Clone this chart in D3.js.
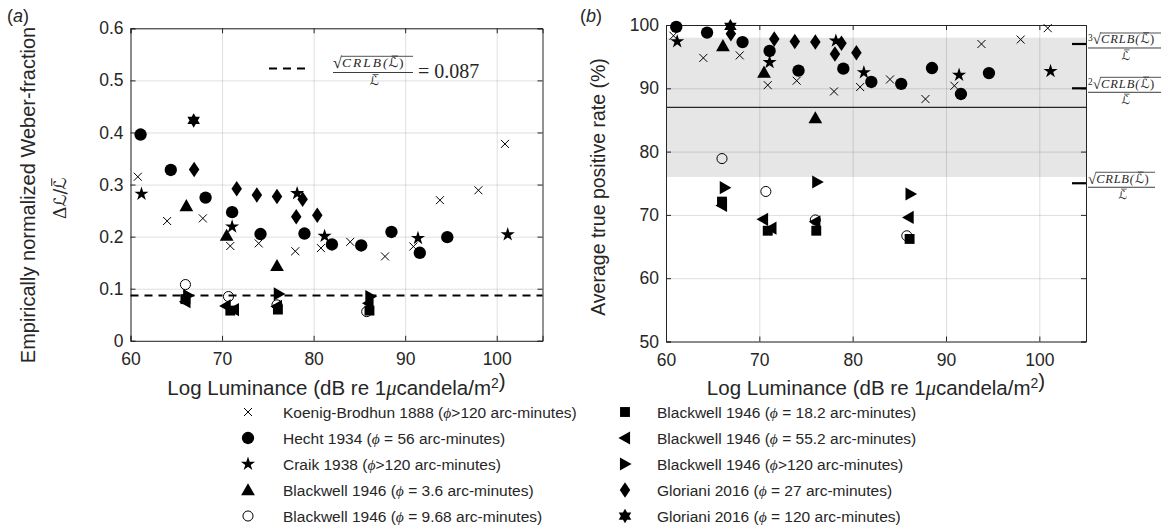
<!DOCTYPE html>
<html>
<head>
<meta charset="utf-8">
<script src="https://cdn.jsdelivr.net/npm/d3@7"></script>
<style>
  body { margin: 0; background: #fff; }
  text { font-family: "Liberation Sans", Arial, sans-serif; fill: #262626; }
</style>
</head>
<body>
<svg id="chart" width="1172" height="529"></svg>
<script>
// ---- data ----
const koenigX = [60.8, 64.0, 67.9, 70.9, 74.0, 78.0, 80.8, 84.0, 87.8, 90.9, 93.8, 98.0, 100.9]
const koenigWeber = [0.315, 0.230, 0.235, 0.182, 0.187, 0.172, 0.178, 0.190, 0.162, 0.181, 0.270, 0.289, 0.378]
const koenigTpr = [98.3, 94.8, 95.2, 90.5, 91.2, 89.5, 90.2, 91.4, 88.3, 90.4, 97.0, 97.7, 99.5]

const hechtX = [61.1, 64.4, 68.2, 71.1, 74.2, 79.0, 82.0, 85.2, 88.5, 91.6, 94.6]
const hechtWeber = [0.396, 0.328, 0.275, 0.247, 0.205, 0.206, 0.185, 0.183, 0.209, 0.169, 0.199]
const hechtTpr = [99.7, 98.8, 97.3, 95.9, 92.8, 93.1, 91.0, 90.7, 93.2, 89.1, 92.4]

const craikX = [61.2, 71.1, 78.2, 81.2, 91.4, 101.2]
const craikWeber = [0.282, 0.219, 0.283, 0.201, 0.197, 0.204]
const craikTpr = [97.4, 94.1, 97.5, 92.5, 92.1, 92.7]

const bw36X = [66.1, 70.5, 76.0]
const bw36Weber = [0.259, 0.202, 0.144]
const bw36Tpr = [96.7, 92.5, 85.3]

const bw968X = [66.0, 70.7, 76.0, 85.8]
const bw968Weber = [0.108, 0.085, 0.069, 0.056]
const bw968Tpr = [78.9, 73.7, 69.2, 66.7]

const bw182X = [66.0, 70.9, 76.1, 86.1]
const bw182Weber = [0.080, 0.058, 0.060, 0.058]
const bw182Tpr = [72.1, 67.5, 67.5, 66.2]

const bw552X = [66.0, 70.4, 71.3, 76.0, 86.0]
const bw552Weber = [0.075, 0.067, 0.060, 0.066, 0.072]
const bw552Tpr = [71.5, 69.3, 67.9, 68.9, 69.6]

const bw120X = [66.3, 76.2, 86.2]
const bw120Weber = [0.087, 0.090, 0.085]
const bw120Tpr = [74.3, 75.2, 73.3]

const glor27X = [66.95, 71.6, 73.8, 76.0, 78.1, 78.8, 80.4]
const glor27Weber = [0.329, 0.292, 0.280, 0.277, 0.238, 0.272, 0.241]
const glor27Tpr = [98.6, 97.8, 97.4, 97.3, 95.4, 97.1, 95.6]

const glor120X = [66.9]
const glor120Weber = [0.423]
const glor120Tpr = [99.8]

const xTicks = [60, 70, 80, 90, 100]
const weberTicks = [0, 0.1, 0.2, 0.3, 0.4, 0.5, 0.6]
const tprTicks = [50, 60, 70, 80, 90, 100]

const crlbWeber = 0.087
const bandTpr = [76, 98]
const lineTpr = 87
const crlbMarks = [{ k: '3', v: 97 }, { k: '2', v: 90 }, { k: '', v: 75 }]

// ---- custom marker shapes ----
const tri = (pts) => ({
    draw(ctx, s) {
        const h = Math.sqrt(s)
        ctx.moveTo(pts[0][0] * h, pts[0][1] * h)
        pts.slice(1).forEach(p => ctx.lineTo(p[0] * h, p[1] * h))
        ctx.closePath()
    }
})
const symCross = { draw(ctx, s) { const r = Math.sqrt(s) / 2; ctx.moveTo(-r, -r); ctx.lineTo(r, r); ctx.moveTo(r, -r); ctx.lineTo(-r, r) } }
const symUp = tri([[0, -0.55], [0.55, 0.42], [-0.55, 0.42]])
const symLeft = tri([[-0.55, 0], [0.42, -0.55], [0.42, 0.55]])
const symRight = tri([[0.55, 0], [-0.42, -0.55], [-0.42, 0.55]])
const symDiamond = tri([[0, -0.62], [0.42, 0], [0, 0.62], [-0.42, 0]])
const symSquare = tri([[-0.45, -0.45], [0.45, -0.45], [0.45, 0.45], [-0.45, 0.45]])
const symHex = {
    draw(ctx, s) {
        const r = Math.sqrt(s) * 0.58
        for (const off of [-Math.PI / 2, Math.PI / 2]) {
            for (let i = 0; i < 3; i++) {
                const a = off + i * 2 * Math.PI / 3
                i ? ctx.lineTo(r * Math.cos(a), r * Math.sin(a)) : ctx.moveTo(r * Math.cos(a), r * Math.sin(a))
            }
            ctx.closePath()
        }
    }
}

const series = [
    { x: koenigX, w: koenigWeber, t: koenigTpr, type: symCross, size: 8, fill: 'none', stroke: true, phi: '>120', name: 'Koenig-Brodhun 1888' },
    { x: hechtX, w: hechtWeber, t: hechtTpr, type: d3.symbolCircle, size: 120, fill: '#000', phi: ' = 56', name: 'Hecht 1934' },
    { x: craikX, w: craikWeber, t: craikTpr, type: d3.symbolStar, size: 62, fill: '#000', phi: '>120', name: 'Craik 1938' },
    { x: bw36X, w: bw36Weber, t: bw36Tpr, type: symUp, size: 12.5, fill: '#000', phi: ' = 3.6', name: 'Blackwell 1946' },
    { x: bw968X, w: bw968Weber, t: bw968Tpr, type: d3.symbolCircle, size: 80, fill: 'none', stroke: true, phi: ' = 9.68', name: 'Blackwell 1946' },
    { x: bw182X, w: bw182Weber, t: bw182Tpr, type: symSquare, size: 11, fill: '#000', phi: ' = 18.2', name: 'Blackwell 1946' },
    { x: bw552X, w: bw552Weber, t: bw552Tpr, type: symLeft, size: 12, fill: '#000', phi: ' = 55.2', name: 'Blackwell 1946' },
    { x: bw120X, w: bw120Weber, t: bw120Tpr, type: symRight, size: 12, fill: '#000', phi: '>120', name: 'Blackwell 1946' },
    { x: glor27X, w: glor27Weber, t: glor27Tpr, type: symDiamond, size: 12.5, fill: '#000', phi: ' = 27', name: 'Gloriani 2016' },
    { x: glor120X, w: glor120Weber, t: glor120Tpr, type: symHex, size: 12.5, fill: '#000', phi: ' = 120', name: 'Gloriani 2016' }
]
// sizes for custom shapes are side lengths -> area
series.forEach(s => { if (s.type !== d3.symbolCircle && s.type !== d3.symbolStar) s.area = s.size * s.size; else s.area = s.size })

const svg = d3.select('#chart')
const mathFont = '"Liberation Serif", "DejaVu Serif", serif'
const calFont = '"DejaVu Sans", "DejaVu Serif", serif'

// ---- scales ----
const xL = d3.scaleLinear().domain([60, 105]).range([130.5, 542.5])
const yL = d3.scaleLinear().domain([0, 0.6]).range([340.8, 28.3])
const xR = d3.scaleLinear().domain([60, 105]).range([666, 1086])
const yR = d3.scaleLinear().domain([50, 100]).range([341.5, 25])

const drawFrame = (x, y, yTicks, yFmt, under) => {
    const g = svg.append('g')
    const [x0, x1] = x.range(), [y0, y1] = y.range()
    if (under) under(g)
    // grid
    g.append('g').attr('transform', `translate(0,${y0})`)
        .call(d3.axisBottom(x).tickValues(xTicks).tickSize(-(y0 - y1)).tickFormat(''))
        .call(a => a.select('.domain').remove())
        .selectAll('line').attr('stroke', '#000').attr('stroke-opacity', 0.13)
    g.append('g').attr('transform', `translate(${x0},0)`)
        .call(d3.axisLeft(y).tickValues(yTicks).tickSize(-(x1 - x0)).tickFormat(''))
        .call(a => a.select('.domain').remove())
        .selectAll('line').attr('stroke', '#000').attr('stroke-opacity', 0.13)
    // axes with inward ticks
    const ax = [
        g.append('g').attr('transform', `translate(0,${y0})`).call(d3.axisBottom(x).tickValues(xTicks).tickSize(-5).tickPadding(12)),
        g.append('g').attr('transform', `translate(0,${y1})`).call(d3.axisTop(x).tickValues(xTicks).tickSize(-5).tickFormat('')),
        g.append('g').attr('transform', `translate(${x0},0)`).call(d3.axisLeft(y).tickValues(yTicks).tickSize(-5).tickPadding(7).tickFormat(yFmt)),
        g.append('g').attr('transform', `translate(${x1},0)`).call(d3.axisRight(y).tickValues(yTicks).tickSize(-5).tickFormat(''))
    ]
    ax.forEach(a => {
        a.select('.domain').attr('stroke', '#262626')
        a.selectAll('line').attr('stroke', '#262626')
        a.selectAll('text').style('font-size', '17.5px').attr('fill', '#262626')
    })
    return g
}

const drawMarks = (g, x, y, key) => {
    series.forEach(s => {
        const pts = s.x.map((v, i) => [v, s[key][i]])
        g.append('g').selectAll('path').data(pts).join('path')
            .attr('d', d3.symbol(s.type, s.area))
            .attr('transform', d => `translate(${x(d[0])},${y(d[1])})`)
            .attr('fill', s.fill)
            .attr('stroke', s.stroke ? '#000' : 'none')
            .attr('stroke-width', 1)
    })
}

// calligraphic L with a bar over it
const lbar = (g, x, y, fs, anchor) => {
    const t = g.append('text').attr('x', x).attr('y', y).attr('text-anchor', anchor || 'start')
        .style('font-family', calFont).style('font-size', fs + 'px').text('ℒ')
    const b = t.node().getBBox()
    g.append('line').attr('x1', b.x + b.width * 0.3).attr('x2', b.x + b.width * 0.95)
        .attr('y1', y - fs * 0.84).attr('y2', y - fs * 0.84)
        .attr('stroke', '#262626').attr('stroke-width', Math.max(0.7, fs * 0.06))
    return b
}

// sqrt(CRLB(L))/L fraction spanning [xStart, xEnd]
const crlbFrac = (g, xStart, xEnd, barY, fs, prefix) => {
    let cx = xStart
    if (prefix) {
        const p = g.append('text').attr('x', cx).attr('y', barY - fs * 0.55).text(prefix)
            .style('font-family', mathFont).style('font-size', (fs * 0.75) + 'px')
        cx += p.node().getComputedTextLength()
    }
    const rad = g.append('text').attr('x', cx).attr('y', barY - fs * 0.3).text('√')
        .style('font-family', mathFont).style('font-size', (fs * 1.2) + 'px')
    cx += rad.node().getComputedTextLength()
    const ny = barY - fs * 0.38
    const bodyW = xEnd - cx
    const head = g.append('text').attr('x', cx).attr('y', ny)
        .style('font-family', mathFont).style('font-style', 'italic').style('font-size', fs + 'px')
        .text('CRLB(')
    const lb = lbar(g, cx + bodyW * 0.66, ny, fs)
    g.append('text').attr('x', lb.x + lb.width + 0.5).attr('y', ny)
        .style('font-family', mathFont).style('font-size', fs + 'px').text(')')
    head.attr('textLength', bodyW * 0.64).attr('lengthAdjust', 'spacing')
    g.append('line').attr('x1', cx - 0.5).attr('x2', xEnd).attr('y1', barY - fs * 1.2).attr('y2', barY - fs * 1.2)
        .attr('stroke', '#262626').attr('stroke-width', 0.8)
    g.append('line').attr('x1', xStart).attr('x2', xEnd).attr('y1', barY).attr('y2', barY)
        .attr('stroke', '#262626').attr('stroke-width', 0.9)
    lbar(g, (xStart + xEnd) / 2 + fs * 0.1, barY + fs * 0.95, fs * 0.95, 'middle')
}

// ---- panel (a) ----
const gA = drawFrame(xL, yL, weberTicks, d => d === 0 ? '0' : d.toFixed(1))
gA.append('line')
    .attr('x1', xL(60)).attr('x2', xL(105)).attr('y1', yL(crlbWeber)).attr('y2', yL(crlbWeber))
    .attr('stroke', '#000').attr('stroke-width', 2.2).attr('stroke-dasharray', '8,6')
drawMarks(gA, xL, yL, 'w')
gA.append('line').attr('x1', 269).attr('x2', 307).attr('y1', 68.5).attr('y2', 68.5)
    .attr('stroke', '#000').attr('stroke-width', 2.2).attr('stroke-dasharray', '8,6')
crlbFrac(gA, 333, 413, 72.5, 13.5, '')
gA.append('text').attr('x', 418).attr('y', 78).text('= 0.087')
    .style('font-family', mathFont).style('font-size', '20px')

// ---- panel (b) ----
const gB = drawFrame(xR, yR, tprTicks, d => d, g => {
    g.append('rect').attr('x', xR(60)).attr('width', xR(105) - xR(60))
        .attr('y', yR(bandTpr[1])).attr('height', yR(bandTpr[0]) - yR(bandTpr[1]))
        .attr('fill', '#e6e6e6')
})
gB.append('line')
    .attr('x1', xR(60)).attr('x2', xR(105)).attr('y1', yR(lineTpr)).attr('y2', yR(lineTpr))
    .attr('stroke', '#262626').attr('stroke-width', 1.3)
drawMarks(gB, xR, yR, 't')
crlbMarks.forEach(m => {
    gB.append('line').attr('x1', xR(105) - 14).attr('x2', xR(105)).attr('y1', yR(m.v)).attr('y2', yR(m.v))
        .attr('stroke', '#000').attr('stroke-width', 2.2)
    crlbFrac(gB, xR(105) + 2, xR(105) + (m.k ? 75 : 69), yR(m.v) + 4, 12.5, m.k)
})

// ---- labels ----
const lab = (x, y, txt, size) => svg.append('text')
    .attr('transform', `translate(${x},${y}) rotate(-90)`)
    .attr('text-anchor', 'middle').style('font-size', size + 'px').text(txt)

svg.append('text').attr('x', 7).attr('y', 22).style('font-size', '18px')
    .html('(<tspan font-style="italic">a</tspan>)')
svg.append('text').attr('x', 580).attr('y', 22).style('font-size', '18px')
    .html('(<tspan font-style="italic">b</tspan>)')

lab(35, 195, 'Empirically normalized Weber-fraction', 20)
lab(605, 187, 'Average true positive rate (%)', 19.5)
// second line of the left label: ΔL / L-bar
const yl2 = svg.append('g').attr('transform', 'translate(66,193) rotate(-90)')
const dL = yl2.append('text').attr('x', -26).attr('y', 0)
    .style('font-family', mathFont).style('font-size', '19px').text('Δ')
const dLw = dL.node().getComputedTextLength()
const lSl = yl2.append('text').attr('x', -26 + dLw).attr('y', 0)
    .style('font-family', calFont).style('font-size', '17px').text('ℒ/')
lbar(yl2, -26 + dLw + lSl.node().getComputedTextLength() - 1, 0, 17)

const xLab = (cx) => svg.append('text').attr('x', cx).attr('y', 395).attr('text-anchor', 'middle')
    .style('font-size', '20.5px')
    .html('Log Luminance (dB re 1<tspan font-family="Liberation Serif" font-style="italic">μ</tspan>candela/m<tspan dy="-7" font-size="14px">2</tspan>)')
xLab((xL(60) + xL(105)) / 2)
xLab((xR(60) + xR(105)) / 2)

// ---- legend ----
const legend = svg.append('g')
series.forEach((s, i) => {
    const col = i < 5 ? 0 : 1
    const row = i % 5
    const mx = col ? 625 : 248
    const ty = 412 + row * 26
    legend.append('path').attr('d', d3.symbol(s.type, s.area))
        .attr('transform', `translate(${mx},${ty})`)
        .attr('fill', s.fill).attr('stroke', s.stroke ? '#000' : 'none')
    legend.append('text').attr('x', col ? 657 : 283).attr('y', ty + 5.5).style('font-size', '15.5px')
        .html(`${s.name} (<tspan font-family="Liberation Serif" font-style="italic">ϕ</tspan>${s.phi} arc-minutes)`)
})
</script>
</body>
</html>
